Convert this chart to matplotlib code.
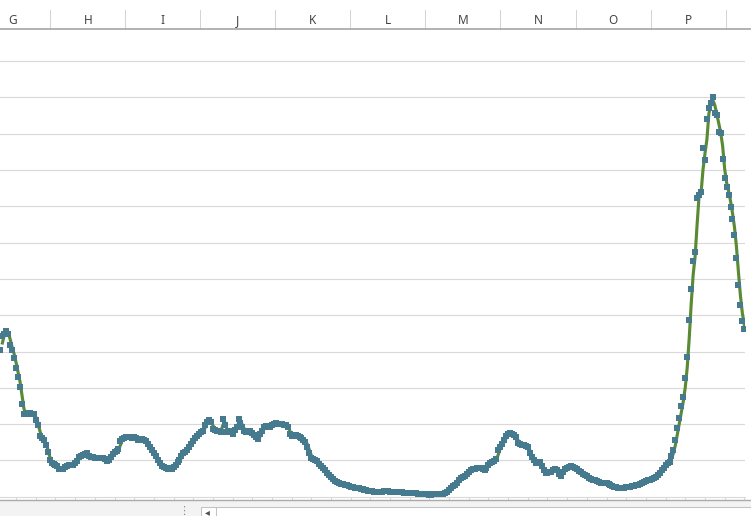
import matplotlib.pyplot as plt
import numpy as np
from matplotlib.patches import Rectangle
from matplotlib.lines import Line2D

W, H = 751, 516

columns = ['G', 'H', 'I', 'J', 'K', 'L', 'M', 'N', 'O', 'P']

# one value per day (gridline step = 1)
values = [
	4.04, 4.43, 4.48, 4.56, 4.48, 4.18, 4.04, 3.82, 3.55, 3.30,
	3.02, 2.55, 2.28, 2.28, 2.31, 2.31, 2.28, 2.28, 2.11, 1.98,
	1.67, 1.62, 1.56, 1.42, 1.23, 1.01, 0.93, 0.90, 0.87, 0.85,
	0.76, 0.76, 0.76, 0.82, 0.85, 0.87, 0.87, 0.87, 0.93, 0.98,
	1.09, 1.12, 1.15, 1.18, 1.20, 1.12, 1.09, 1.09, 1.07, 1.07,
	1.07, 1.07, 1.07, 1.04, 0.98, 1.01, 1.09, 1.18, 1.23, 1.26,
	1.31, 1.53, 1.59, 1.62, 1.64, 1.64, 1.64, 1.62, 1.64, 1.62,
	1.56, 1.56, 1.59, 1.56, 1.53, 1.45, 1.37, 1.29, 1.20, 1.12,
	1.01, 0.93, 0.85, 0.82, 0.79, 0.76, 0.79, 0.76, 0.82, 0.87,
	0.96, 1.01, 1.12, 1.20, 1.23, 1.29, 1.37, 1.45, 1.53, 1.62,
	1.67, 1.73, 1.78, 1.81, 1.98, 2.06, 2.11, 2.06, 1.87, 1.84,
	1.81, 1.81, 1.78, 2.14, 1.98, 1.78, 1.81, 1.81, 1.73, 1.84,
	1.92, 2.14, 2.03, 1.92, 1.81, 1.78, 1.81, 1.81, 1.75, 1.70,
	1.64, 1.59, 1.73, 1.81, 1.92, 1.95, 1.92, 1.92, 1.98, 2.00,
	2.03, 2.00, 2.00, 2.00, 1.98, 1.98, 1.92, 1.73, 1.67, 1.70,
	1.70, 1.67, 1.64, 1.62, 1.56, 1.51, 1.37, 1.20, 1.07, 1.04,
	1.01, 0.98, 0.90, 0.85, 0.79, 0.74, 0.65, 0.60, 0.54, 0.49,
	0.43, 0.40, 0.38, 0.35, 0.35, 0.32, 0.32, 0.29, 0.27, 0.27,
	0.24, 0.24, 0.24, 0.21, 0.21, 0.18, 0.18, 0.16, 0.16, 0.16,
	0.13, 0.13, 0.13, 0.13, 0.13, 0.16, 0.16, 0.16, 0.13, 0.13,
	0.13, 0.13, 0.13, 0.13, 0.13, 0.10, 0.10, 0.10, 0.10, 0.10,
	0.10, 0.10, 0.07, 0.07, 0.07, 0.07, 0.07, 0.07, 0.05, 0.05,
	0.07, 0.07, 0.07, 0.07, 0.07, 0.07, 0.10, 0.13, 0.18, 0.24,
	0.29, 0.32, 0.38, 0.46, 0.52, 0.54, 0.57, 0.63, 0.68, 0.74,
	0.76, 0.76, 0.79, 0.79, 0.79, 0.76, 0.74, 0.79, 0.87, 0.93,
	0.96, 0.98, 1.04, 1.29, 1.37, 1.45, 1.56, 1.67, 1.73, 1.75,
	1.73, 1.70, 1.64, 1.48, 1.45, 1.42, 1.42, 1.40, 1.37, 1.20,
	1.09, 1.01, 0.93, 0.93, 0.96, 0.85, 0.74, 0.65, 0.65, 0.68,
	0.68, 0.74, 0.76, 0.74, 0.63, 0.57, 0.68, 0.76, 0.79, 0.82,
	0.85, 0.82, 0.79, 0.76, 0.71, 0.68, 0.63, 0.60, 0.57, 0.52,
	0.49, 0.46, 0.46, 0.43, 0.40, 0.38, 0.38, 0.38, 0.38, 0.35,
	0.32, 0.29, 0.27, 0.27, 0.24, 0.24, 0.24, 0.24, 0.27, 0.27,
	0.27, 0.29, 0.29, 0.32, 0.32, 0.35, 0.38, 0.40, 0.43, 0.46,
	0.46, 0.49, 0.52, 0.54, 0.60, 0.65, 0.74, 0.79, 0.87, 0.93,
	0.96, 1.12, 1.29, 1.56, 1.89, 2.17, 2.50, 2.75, 3.27, 3.85,
	4.87, 5.72, 6.49, 6.74, 8.23, 8.31, 8.39, 9.61, 9.28, 10.40,
	10.71, 10.85, 11.01, 10.57, 10.52, 10.05, 10.02, 9.30, 8.78, 8.53,
	8.31, 7.98, 7.65, 7.21, 6.58, 5.83, 5.28, 4.84, 4.62,
]

# moving average trendline, period 2 (as excel draws it)
ma_period = 2


def px_box(x, y, w, h):
	"""screen pixels (top-left origin) -> figure fraction box"""
	return [x / W, (H - y - h) / H, w / W, h / H]


def fig_line(fig, x0, y0, x1, y1, color, lw=0.75):
	fig.add_artist(Line2D([x0 / W, x1 / W], [1 - y0 / H, 1 - y1 / H],
		color=color, lw=lw, transform=fig.transFigure))


def fig_rect(fig, x, y, w, h, face, edge='none', lw=0.75):
	fig.add_artist(Rectangle((x / W, 1 - (y + h) / H), w / W, h / H,
		facecolor=face, edgecolor=edge, lw=lw, transform=fig.transFigure))


fig = plt.figure(figsize=(W / 100, H / 100), dpi=100)
fig.patch.set_facecolor('white')

# chart area, cut off by the sheet on the left and top
axis_y, top_y, step = 496.7, 29.3, 36.3
ax = fig.add_axes(px_box(0, top_y, 745, axis_y - top_y))
n = len(values)
days = np.arange(n)
ax.set_xlim(-0.2, -0.2 + 745 / 1.968)
ax.set_ylim(0, (axis_y - top_y) / step)
for v in range(1, 13):
	ax.axhline(v, color='#d9d9d9', lw=0.8, zorder=1)

trend = np.convolve(values, np.ones(ma_period) / ma_period, mode='valid')
ax.plot(days[ma_period - 1:], trend, color='#5a8a34', lw=2.25, zorder=2)
ax.plot(days, values, linestyle='none', marker='s', markersize=3.8,
	markerfacecolor='#467a8f', markeredgewidth=0, zorder=3)

for side in ['top', 'left', 'right']:
	ax.spines[side].set_visible(False)
ax.spines['bottom'].set_color('#d9d9d9')
ax.spines['bottom'].set_linewidth(0.8)
ax.set_yticks([])
ax.set_xticks(list(range(n - 1, 0, -10)))
ax.set_xticklabels([])
ax.tick_params(axis='x', direction='out', length=2.2, width=0.8, color='#d9d9d9')

# column header row
fig_rect(fig, 0, 0, W, top_y, 'white')
first_edge, col_w = 50.3, 75.03
for k in range(10):
	bx = first_edge + k * col_w
	fig_line(fig, bx, 10, bx, top_y, '#d4d4d4')
for k, name in enumerate(columns):
	cx = first_edge + (k - 0.5) * col_w
	fig.text(cx / W, 1 - 20.5 / H, name, ha='center', va='center',
		fontsize=8.5, color='#444444', family='Noto Sans')
fig_line(fig, 0, top_y, W, top_y, '#a6a6a6', lw=1.2)

# sheet tab strip and scrollbar at the bottom
fig_line(fig, 0, 499.6, W, 499.6, '#ababab', lw=1.0)
fig_rect(fig, 0, 500.2, W, H - 500.2, '#f3f3f3')
fig_rect(fig, 200.5, 506.5, W, 12, 'white', edge='#c2c2c2')
fig_line(fig, 215.5, 506.5, 215.5, H, '#c2c2c2')
fig.text(207.5 / W, 1 - 512 / H, '\u25c2', ha='center', va='center',
	fontsize=7, color='#505050', family='DejaVu Sans')
fig.text(184 / W, 1 - 511 / H, '\u22ee', ha='center', va='center',
	fontsize=8, color='#909090', family='DejaVu Sans')

fig.savefig('out.png', dpi=100)
